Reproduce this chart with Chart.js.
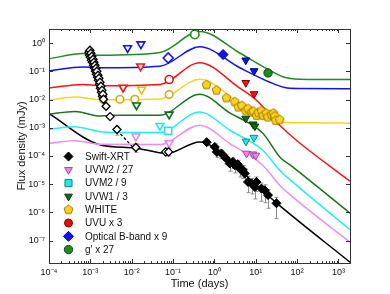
<!DOCTYPE html>
<html lang="en">
<head>
<meta charset="UTF-8">
<meta name="viewport" content="width=device-width, initial-scale=1.0">
<title>Light curves</title>
<script src="https://cdn.jsdelivr.net/npm/chart.js"></script>
<style>
    body { margin: 0; background: #ffffff; }
    canvas { display: block; }
</style>
</head>
<body>
<canvas id="chart" width="390" height="294"></canvas>
<script>
// time in days, flux density in mJy

const xDecades = [-4, -3, -2, -1, 0, 1, 2, 3];
const yDecades = [-7, -6, -5, -4, -3, -2, -1, 0];

const legendLabels = ['Swift-XRT', 'UVW2 / 27', 'UVM2 / 9', 'UVW1 / 3', 'WHITE', 'UVU x 3', 'Optical B-band x 9', "g' x 27"];

// model curves [t, F]
const modelGp = [[1e-4, 0.282], [6.6e-4, 0.431], [1.7e-3, 0.375], [0.048, 0.468], [0.44, 2.62], [4.1, 0.45], [19.5, 0.12], [45, 0.065], [116, 0.053], [1900, 0.0516]];
const modelB = [[1e-4, 0.104], [6.6e-4, 0.144], [1.7e-3, 0.135], [0.048, 0.153], [0.44, 0.75], [4.1, 0.135], [21.8, 0.0414], [50, 0.0269], [116, 0.0248], [1900, 0.0244]];
const modelU = [[1e-4, 0.026], [6.6e-4, 0.0346], [1.7e-3, 0.0311], [0.048, 0.0346], [0.44, 0.204], [4.1, 0.0254], [10.4, 9.5e-3], [38, 1.24e-3], [96, 3.63e-4], [1900, 1.28e-5]];
const modelWhite = [[1e-4, 9.5e-3], [4.25e-4, 0.0124], [1.7e-3, 9.9e-3], [0.048, 0.0105], [0.44, 0.0529], [4.1, 7.45e-3], [9.5, 3.72e-3], [19.5, 2.2e-3], [45, 1.58e-3], [200, 1.5e-3], [1900, 1.46e-3]];
const modelW1 = [[1e-4, 3.08e-3], [4.25e-4, 3.82e-3], [1.7e-3, 2.62e-3], [5.2e-3, 2.8e-3], [0.048, 2.8e-3], [0.44, 0.0155], [2.36, 3.37e-3], [14.8, 6.44e-4], [38, 9.3e-5], [78, 4.1e-5], [1900, 9.4e-7]];
const modelM2 = [[1e-4, 8.9e-4], [4.25e-4, 1.09e-3], [1.7e-3, 7.28e-4], [5.2e-3, 6.8e-4], [0.048, 6.8e-4], [0.44, 3.66e-3], [2.36, 8.2e-4], [14.8, 1.6e-4], [38, 3.13e-5], [78, 1.21e-5], [1900, 2.44e-7]];
const modelW2 = [[1e-4, 2.84e-4], [4.25e-4, 3.49e-4], [1.7e-3, 2.62e-4], [0.048, 2.56e-4], [0.44, 1.24e-3], [2.36, 2.77e-4], [14.8, 4.72e-5], [38, 9.2e-6], [78, 3.55e-6], [1900, 8.7e-8]];
const modelXrt = [[1e-4, 3.16e-3], [1.7e-3, 2.52e-4], [0.0119, 1.94e-4], [0.0708, 1.23e-4], [0.44, 3.16e-4], [4.1, 3.13e-5], [32.1, 2.12e-6], [1900, 1.71e-8]];
// steep early decay, extrapolated
const xrtDecayExt = [[4.4e-3, 8.2e-4], [0.0107, 2.05e-4]];

// Swift-XRT early [t, F]
const xrtEarly = [
    [9.25e-4, 0.48], [9.5e-4, 0.375], [9.77e-4, 0.565], [1.0e-3, 0.32], [1.03e-3, 0.44], [1.06e-3, 0.25],
    [1.09e-3, 0.346], [1.12e-3, 0.212], [1.16e-3, 0.27], [1.19e-3, 0.166], [1.22e-3, 0.212], [1.26e-3, 0.13],
    [1.29e-3, 0.166], [1.33e-3, 0.102], [1.37e-3, 0.13], [1.40e-3, 0.0796], [1.44e-3, 0.102], [1.49e-3, 0.062],
    [1.53e-3, 0.073], [1.57e-3, 0.0488], [1.61e-3, 0.0574], [1.66e-3, 0.0352], [1.71e-3, 0.0414], [1.75e-3, 0.0254],
    [1.80e-3, 0.0299], [1.85e-3, 0.0183], [1.91e-3, 0.0216], [1.96e-3, 0.0132], [2.01e-3, 0.0155], [2.07e-3, 0.0103],
    [2.4e-3, 5.8e-3], [3.0e-3, 2.5e-3], [4.4e-3, 8.7e-4], [0.0126, 2.0e-4], [0.066, 1.4e-4], [0.078, 1.4e-4]
];
const xrtEarlyBars = [[4.4e-3, 5.5e-4, 1.15e-3], [0.0126, 1.35e-4, 2.8e-4], [0.066, 1.0e-4, 1.9e-4], [0.078, 1.0e-4, 1.9e-4]];

// Swift-XRT later [t, F, low, high]
const xrtLate = [
    [0.65, 3.1e-4, 2.3e-4, 3.9e-4], [1.02, 2.1e-4, 1.5e-4, 2.7e-4], [1.14, 1.4e-4, 9e-5, 1.9e-4],
    [1.48, 1.23e-4, 8e-5, 1.6e-4], [1.9, 8.3e-5, 5.2e-5, 1.1e-4], [2.36, 5.4e-5, 2.9e-5, 7.5e-5],
    [2.8, 6.2e-5, 3.6e-5, 8.4e-5], [3.1, 4.7e-5, 2.5e-5, 6.5e-5], [3.67, 5.1e-5, 3.0e-5, 7.0e-5],
    [4.1, 3.6e-5, 1.8e-5, 5.2e-5], [4.86, 3.2e-5, 1.6e-5, 4.6e-5], [5.4, 2.4e-5, 1.2e-5, 3.5e-5],
    [6.5, 1.2e-5, 5e-6, 1.9e-5], [7.9, 1.06e-5, 4.5e-6, 1.6e-5], [9.5, 8.0e-6, 3e-6, 1.3e-5],
    [10.4, 1.2e-5, 5.5e-6, 1.8e-5], [13.7, 7.0e-6, 2.5e-6, 1.1e-5], [16.5, 6.1e-6, 2.2e-6, 9.5e-6],
    [19.8, 4.1e-6, 1.4e-6, 6.5e-6], [31.7, 2.1e-6, 6e-7, 3.4e-6]
];

// UV / optical, detections and upper limits [t, F]
const uvw2Lim = [[0.0126, 5.0e-4], [0.080, 2.9e-4], [5.97, 1.23e-4], [8.5, 1.16e-4], [10.0, 1.05e-4]];
const uvm2Det = [[0.076, 7.8e-4]];
const uvm2Lim = [[0.048, 1.19e-3], [5.8, 3.3e-4], [9.0, 4.5e-4]];
const uvw1Lim = [[0.0131, 6.3e-3], [0.0806, 3.0e-3], [5.73, 2.14e-3], [8.6, 1.34e-3], [9.5, 1.14e-3]];
const whiteEarly = [[2.05e-3, 0.0103], [5.2e-3, 0.0103], [0.0119, 0.0103], [0.0806, 0.0152]];
const whiteLate = [
    [0.644, 0.0332], [1.12, 0.0215], [1.96, 0.0115], [3.11, 8.4e-3], [3.78, 5.4e-3], [4.59, 6.1e-3],
    [5.73, 4.0e-3], [6.52, 4.75e-3], [8.0, 3.6e-3], [8.7, 3.9e-3], [10.4, 2.7e-3], [11.5, 3.4e-3],
    [13.7, 4.0e-3], [15.0, 2.7e-3], [17.9, 3.3e-3], [19.5, 2.4e-3], [23.7, 2.9e-3], [26.5, 3.3e-3],
    [28.8, 2.6e-3], [30.4, 1.8e-3], [38.0, 1.94e-3]
];
const whiteLim = [[0.0173, 0.0228]];
const uvuDet = [[0.0806, 0.0516]];
const uvuLim = [[6.2e-3, 0.0269], [0.0164, 0.153], [5.73, 0.0397], [9.1, 0.0159]];
const bDet = [[0.0763, 0.30], [1.62, 0.397]];
const bLim = [[7.96e-3, 0.68], [0.0167, 0.93], [5.73, 0.25], [9.1, 0.104]];
const gDet = [[0.336, 2.04], [19.8, 0.0885]];

const FONT = '"Liberation Sans", Arial, Helvetica, sans-serif';
const SUP = { '-': '\u207B', '0': '\u2070', '1': '\u00B9', '2': '\u00B2', '3': '\u00B3', '4': '\u2074', '5': '\u2075', '6': '\u2076', '7': '\u2077', '8': '\u2078', '9': '\u2079' };

function decadeLabel(v) {
    const e = Math.round(Math.log10(v));
    return '10' + String(e).split('').map(c => SUP[c]).join('');
}

const xy = arr => arr.map(p => ({ x: p[0], y: p[1] }));

// pentagon marker for the WHITE filter
function pentagon(fill, edge, r) {
    const c = document.createElement('canvas');
    const s = Math.ceil(r * 2 + 3);
    c.width = c.height = s;
    const g = c.getContext('2d');
    g.beginPath();
    for (let i = 0; i < 5; i++) {
        const a = -Math.PI / 2 + i * 2 * Math.PI / 5;
        g.lineTo(s / 2 + r * Math.cos(a), s / 2 + r * Math.sin(a));
    }
    g.closePath();
    g.fillStyle = fill;
    g.fill();
    g.lineWidth = 1;
    g.strokeStyle = edge;
    g.stroke();
    return c;
}
const pentaImg = pentagon('#ffd21a', '#9a7a00', 4.6);

// model line
function model(pts, color) {
    return {
        data: xy(pts), showLine: true, borderColor: color, borderWidth: 1.5,
        pointRadius: 0, cubicInterpolationMode: 'monotone', order: 5
    };
}

// markers: early ones (t < 0.5 d) drawn open, later ones filled
function marks(pts, style, color, edge, r, extra) {
    return Object.assign({
        data: xy(pts), pointStyle: style, pointRadius: r,
        backgroundColor: c => (c.raw && c.raw.x < 0.5) ? '#ffffff' : color,
        borderColor: c => (c.raw && c.raw.x < 0.5) ? color : edge,
        borderWidth: c => (c.raw && c.raw.x < 0.5) ? 1.6 : 1,
        order: 1, legendColor: color, legendEdge: edge
    }, extra || {});
}

const down = { pointRotation: 180 };

const datasets = [
    model(modelGp, '#1f8c1f'),
    model(modelB, '#1010ff'),
    model(modelU, '#ff1010'),
    model(modelWhite, '#ffd21a'),
    model(modelW1, '#13781a'),
    model(modelM2, '#20f0f0'),
    model(modelW2, '#f08cf0'),
    model(modelXrt, '#000000'),
    { data: xy(xrtDecayExt), showLine: true, borderColor: '#000000', borderWidth: 1.3, borderDash: [3, 2], pointRadius: 0, order: 5 },

    marks(xrtLate, 'rectRot', '#000000', '#000000', 4.5, { legend: 0 }),
    marks(xrtEarly, 'rectRot', '#000000', '#000000', 4, { backgroundColor: '#ffffff', borderColor: '#000000', borderWidth: 1.3 }),
    marks(uvw2Lim, 'triangle', '#ee82ee', '#a04aa0', 4.5, Object.assign({ legend: 1 }, down)),
    marks(uvm2Det, 'rect', '#20e8e8', '#0a8a8a', 5, { legend: 2 }),
    marks(uvm2Lim, 'triangle', '#20e8e8', '#0a8a8a', 4.5, down),
    marks(uvw1Lim, 'triangle', '#0e6e14', '#073d0a', 4.5, Object.assign({ legend: 3 }, down)),
    marks(whiteEarly, 'circle', '#d4ac0a', '#9a7a00', 3.8, {}),
    { data: xy(whiteLate), pointStyle: pentaImg, pointRadius: 4.6, order: 1, legend: 4 },
    marks(whiteLim, 'triangle', '#e8c000', '#9a7a00', 4.5, down),
    marks(uvuDet, 'circle', '#e01010', '#8a0000', 4, { legend: 5 }),
    marks(uvuLim, 'triangle', '#ff1010', '#8a0000', 4.5, down),
    marks(bDet, 'rectRot', '#1010ff', '#00008a', 5, { legend: 6 }),
    marks(bLim, 'triangle', '#1010ff', '#00008a', 4.5, down),
    marks(gDet, 'circle', '#1f8c1f', '#0a4a0a', 4.2, { legend: 7 })
];

// small marker painter for the legend
function drawMarker(ctx, style, x, y, r, fill, edge, rot) {
    ctx.save();
    ctx.translate(x, y);
    if (rot) ctx.rotate(rot * Math.PI / 180);
    ctx.fillStyle = fill;
    ctx.strokeStyle = edge;
    ctx.lineWidth = 1;
    ctx.beginPath();
    if (style === 'rectRot') {
        ctx.moveTo(0, -r); ctx.lineTo(r, 0); ctx.lineTo(0, r); ctx.lineTo(-r, 0);
    } else if (style === 'rect') {
        const h = r * Math.SQRT1_2;
        ctx.rect(-h, -h, 2 * h, 2 * h);
    } else if (style === 'triangle') {
        for (let i = 0; i < 3; i++) {
            const a = i * 2 * Math.PI / 3;
            ctx.lineTo(r * Math.sin(a), -r * Math.cos(a));
        }
    } else {
        ctx.arc(0, 0, r, 0, Math.PI * 2);
    }
    ctx.closePath();
    ctx.fill();
    ctx.stroke();
    ctx.restore();
}

const framePlugin = {
    id: 'framePlugin',
    beforeDatasetsDraw(chart) {
        const ctx = chart.ctx, x = chart.scales.x, y = chart.scales.y;
        ctx.save();
        ctx.strokeStyle = '#8c8c8c';
        ctx.lineWidth = 1;
        const bars = xrtLate.map(p => [p[0], p[2], p[3]]).concat(xrtEarlyBars);
        bars.forEach(b => {
            const px = Math.round(x.getPixelForValue(b[0])) + 0.5;
            const y1 = y.getPixelForValue(b[1]);
            const y2 = y.getPixelForValue(b[2]);
            ctx.beginPath();
            ctx.moveTo(px, y1); ctx.lineTo(px, y2);
            ctx.moveTo(px - 2, y1); ctx.lineTo(px + 2, y1);
            ctx.moveTo(px - 2, y2); ctx.lineTo(px + 2, y2);
            ctx.stroke();
        });
        ctx.restore();
    },
    afterDatasetsDraw(chart) {
        const ctx = chart.ctx, x = chart.scales.x, y = chart.scales.y;
        const { left, right, top, bottom } = chart.chartArea;
        ctx.save();
        ctx.strokeStyle = '#333333';
        ctx.lineWidth = 1;
        ctx.strokeRect(Math.round(left) + 0.5, Math.round(top) + 0.5, Math.round(right - left), Math.round(bottom - top));

        // inward ticks, mirrored on top and right
        ctx.beginPath();
        xDecades.forEach(e => {
            for (let k = 1; k <= 9; k++) {
                const v = k * Math.pow(10, e);
                if (v > x.max) break;
                const px = Math.round(x.getPixelForValue(v)) + 0.5;
                const len = k === 1 ? 4 : 2;
                ctx.moveTo(px, bottom); ctx.lineTo(px, bottom - len);
                ctx.moveTo(px, top); ctx.lineTo(px, top + len);
            }
        });
        yDecades.forEach(e => {
            const py = Math.round(y.getPixelForValue(Math.pow(10, e))) + 0.5;
            ctx.moveTo(left, py); ctx.lineTo(left + 4, py);
            ctx.moveTo(right, py); ctx.lineTo(right - 4, py);
        });
        ctx.stroke();

        // legend inside the plot, lower left
        const items = chart.data.datasets.filter(d => d.legend !== undefined).sort((a, b) => a.legend - b.legend);
        ctx.font = '10px ' + FONT;
        ctx.fillStyle = '#111111';
        ctx.textBaseline = 'middle';
        items.forEach((d, i) => {
            const ly = 156.5 + i * 13.3;
            const mx = 68.5;
            if (d.pointStyle === pentaImg) {
                ctx.drawImage(pentaImg, mx - pentaImg.width / 2, ly - pentaImg.height / 2);
            } else {
                drawMarker(ctx, d.pointStyle, mx, ly, d.pointRadius, d.legendColor, d.legendEdge, d.pointRotation || 0);
            }
            ctx.fillStyle = '#111111';
            ctx.fillText(legendLabels[d.legend], 85, ly + 0.5);
        });
        ctx.restore();
    }
};

const chart = new Chart(document.getElementById('chart'), {
    type: 'scatter',
    data: { datasets: datasets },
    options: {
        responsive: false,
        animation: false,
        devicePixelRatio: 1,
        layout: { padding: { top: 29, right: 40, left: 0, bottom: 0 } },
        plugins: { legend: { display: false }, tooltip: { enabled: false } },
        scales: {
            x: {
                type: 'logarithmic', min: 1e-4, max: 1900,
                afterFit: s => { s.height = 31; },
                afterBuildTicks: s => { s.ticks = xDecades.map(e => ({ value: Math.pow(10, e) })); },
                grid: { display: false, drawTicks: false },
                border: { display: false },
                ticks: { callback: v => decadeLabel(v), font: { family: FONT, size: 9 }, color: '#111111', padding: 4, maxRotation: 0, autoSkip: false },
                title: { display: true, text: 'Time (days)', font: { family: FONT, size: 11 }, color: '#111111', padding: { top: 0, bottom: 3 } }
            },
            y: {
                type: 'logarithmic', min: 1.6e-8, max: 3.2,
                afterFit: s => { s.width = 49; },
                afterBuildTicks: s => { s.ticks = yDecades.map(e => ({ value: Math.pow(10, e) })); },
                grid: { display: false, drawTicks: false },
                border: { display: false },
                ticks: { callback: v => decadeLabel(v), font: { family: FONT, size: 9 }, color: '#111111', padding: 4, autoSkip: false },
                title: { display: true, text: 'Flux density (mJy)', font: { family: FONT, size: 11 }, color: '#111111', padding: { top: 15, bottom: 0 } }
            }
        }
    },
    plugins: [framePlugin]
});
</script>
</body>
</html>
